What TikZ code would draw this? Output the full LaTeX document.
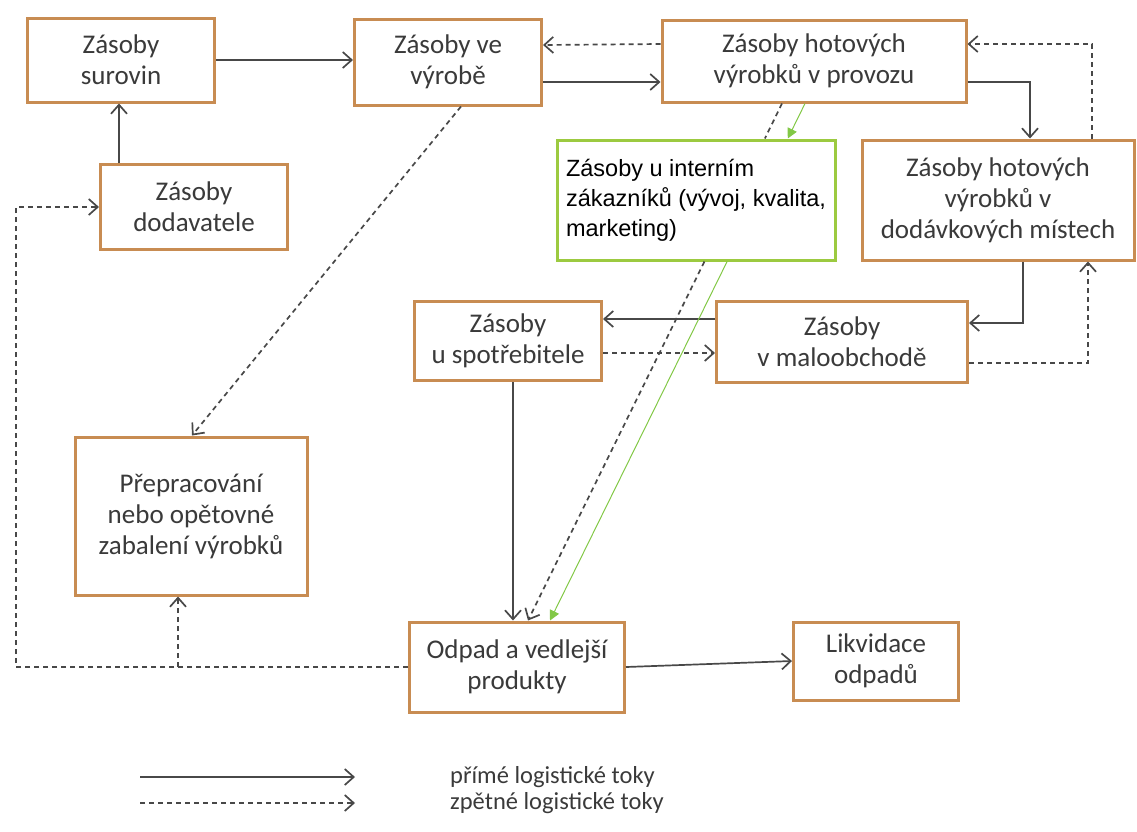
\documentclass[tikz,border=0pt]{standalone}
\usepackage{fontspec}
\setmainfont{Carlito}
\newfontfamily\arialfont{Liberation Sans}
\usetikzlibrary{arrows.meta,calc}

\definecolor{boxedge}{RGB}{200,140,82}
\definecolor{boxlime}{RGB}{156,202,64}
\definecolor{flowgray}{RGB}{72,72,72}
\definecolor{labelgray}{RGB}{58,58,58}
\definecolor{limeline}{RGB}{130,200,70}

\begin{document}
\begin{tikzpicture}[x=1pt,y=-1pt,
    stock/.style={draw=boxedge,line width=3pt,fill=white,align=center,
      text=labelgray,font=\fontsize{27}{31}\selectfont,inner sep=2pt},
    internal/.style={draw=boxlime,line width=3pt,fill=white,align=left,
      text=black,font=\arialfont\fontsize{23.5}{30}\selectfont,inner sep=4pt},
    forward/.style={draw=flowgray,line width=1.7pt,
      -{Straight Barb[length=9pt,width=16pt]}},
    reverse/.style={forward,dash pattern=on 5pt off 4pt},
    limeflow/.style={draw=limeline,line width=1pt,
      -{Triangle[length=10pt,width=10pt]}},
    legend/.style={text=labelgray,font=\fontsize{24.5}{28}\selectfont,
      inner sep=0pt,anchor=west}]
            \useasboundingbox (0,0) rectangle (1137,831);

            % Stock boxes
            \node[stock,minimum width=187,minimum height=84] (surovin) at (121,60) {Zásoby\\surovin};
            \node[stock,minimum width=187,minimum height=86] (vyroba) at (448,62) {Zásoby ve\\výrobě};
            \node[stock,minimum width=304,minimum height=82] (provoz) at (814,61) {Zásoby hotových\\výrobků v provozu};
            \node[stock,minimum width=187,minimum height=85] (dodavatel) at (194,207) {Zásoby\\dodavatele};
            \node[internal,minimum width=278,minimum height=120] (interni) at (696,200) {Zásoby u interním\\zákazníků (vývoj, kvalita,\\marketing)};
            \node[stock,minimum width=272,minimum height=120] (dodavky) at (998,200) {Zásoby hotových\\výrobků v\\dodávkových místech};
            \node[stock,minimum width=187,minimum height=79] (spotreba) at (508,341) {Zásoby\\u spotřebitele};
            \node[stock,minimum width=251,minimum height=81] (obchod) at (842,342) {Zásoby\\v maloobchodě};
            \node[stock,minimum width=232,minimum height=158] (prebal) at (191,516) {Přepracování\\nebo opětovné\\zabalení výrobků};
            \node[stock,minimum width=215,minimum height=90] (odpad) at (517,667) {Odpad a vedlejší\\produkty};
            \node[stock,minimum width=165,minimum height=78] (likvidace) at (876,661) {Likvidace\\odpadů};

            % Forward flows
            \coordinate (d1) at ($(dodavatel.north west)+(20,0)$);
            \draw[forward] (d1) -- (d1 |- surovin.south);
            \draw[forward] (surovin.east) -- (surovin.east -| vyroba.west);
            \draw[forward] ($(vyroba.east)+(0,20)$) -- ($(provoz.west)+(0,21)$);
            \draw[forward] ($(provoz.east)+(0,21)$) -| ($(dodavky.north)+(32,0)$);
            \draw[forward] ($(dodavky.south)+(25,0)$) |- ($(obchod.east)+(0,-19)$);
            \draw[forward] ($(obchod.west)+(0,-23)$) -- ($(spotreba.east)+(0,-22)$);
            \draw[forward] ($(spotreba.south)+(5,0)$) -- ($(odpad.north)+(-4,0)$);
            \draw[forward] (odpad.east) -- (likvidace.west);

            % Reverse flows
            \draw[reverse] ($(provoz.west)+(0,-17)$) -- ($(vyroba.east)+(0,-17)$);
            \draw[reverse] ($(dodavky.north)+(94,0)$) |- ($(provoz.east)+(0,-17)$);
            \draw[reverse] ($(obchod.east)+(0,21)$) -| ($(dodavky.south)+(90,0)$);
            \draw[reverse] ($(spotreba.east)+(0,12)$) -- ($(obchod.west)+(0,11)$);
            \draw[reverse] ($(vyroba.south)+(13,0)$) -- ($(prebal.north)+(1,0)$);
            \coordinate (r1) at ($(provoz.south)+(-32,0)$);
            \coordinate (r2) at ($(odpad.north)+(11,0)$);
            \draw[reverse,-] (r1) -- (intersection of r1--r2 and interni.north west--interni.north east);
            \draw[reverse] (intersection of r1--r2 and interni.south west--interni.south east) -- (r2);
            \coordinate (edge) at (16,0);
            \draw[reverse] (odpad.west) -- (odpad.west -| edge) |- (dodavatel.west);
            \coordinate (b1) at ($(prebal.south)+(-13,0)$);
            \draw[reverse] (b1 |- odpad.west) -- (b1);

            % Internal customers
            \coordinate (g1) at ($(provoz.south)+(-9,0)$);
            \coordinate (g2) at ($(odpad.north)+(33,0)$);
            \draw[limeflow] (g1) -- (intersection of g1--g2 and interni.north west--interni.north east);
            \draw[limeflow] (intersection of g1--g2 and interni.south west--interni.south east) -- (g2);

            % Legend
            \coordinate (key1a) at (140,777);
            \coordinate (key1b) at (355,777);
            \coordinate (key2a) at (140,803);
            \coordinate (key2b) at (355,803);
            \draw[forward] (key1a) -- (key1b);
            \draw[reverse] (key2a) -- (key2b);
            \node[legend] (keyfwd) at (450,777) {přímé logistické toky};
            \node[legend] (keyrev) at (450,803) {zpětné logistické toky};
        \end{tikzpicture}
\end{document}
